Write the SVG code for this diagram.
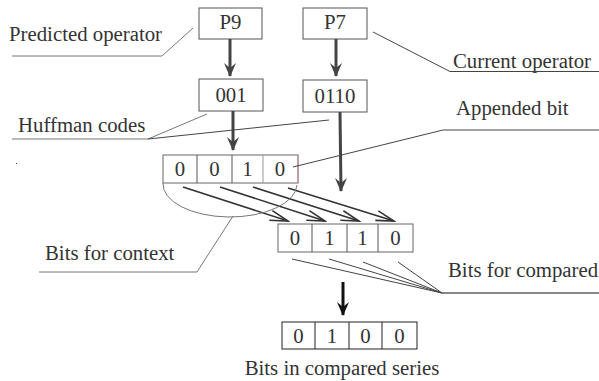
<svg xmlns="http://www.w3.org/2000/svg" width="599" height="381" viewBox="0 0 599 381">
  <style>
    text { font-family: "Liberation Serif", "Times New Roman", serif; font-size: 20.8px; fill: #333; }
    .mid { text-anchor: middle; }
    .box { fill: #fff; stroke: #555; stroke-width: 1; }
    .cell { stroke: #555; stroke-width: 1; }
    .lead { fill: none; stroke: #444; stroke-width: 1; }
    .lead-lt { fill: none; stroke: #777; stroke-width: 1; }
    .thick { stroke: #444; stroke-width: 3; }
    .diag { stroke: #333; stroke-width: 1.6; fill: none; }
  </style>
  <defs>
    <marker id="head" markerUnits="userSpaceOnUse" markerWidth="16" markerHeight="18" refX="8" refY="16" orient="0" viewBox="0 0 16 18">
      <path d="M8,17 L2,3 L8,8 L14,3 Z" fill="#444"/>
    </marker>
    <marker id="head-bk" markerUnits="userSpaceOnUse" markerWidth="16" markerHeight="18" refX="8" refY="16" orient="0" viewBox="0 0 16 18">
      <path d="M8,17 L2,3 L8,8 L14,3 Z" fill="#111"/>
    </marker>
    <marker id="open" markerUnits="userSpaceOnUse" markerWidth="22" markerHeight="12" refX="20" refY="6" orient="auto" viewBox="0 0 22 12">
      <path d="M2,1 L20,6 L2,11" fill="none" stroke="#333" stroke-width="1.6"/>
    </marker>
  </defs>

  <!-- operator boxes -->
  <g id="p9">
    <rect class="box" x="199" y="8" width="63" height="31"/>
    <text class="mid" x="230.5" y="29">P9</text>
  </g>
  <g id="p7">
    <rect class="box" x="303" y="8" width="64" height="31"/>
    <text class="mid" x="335" y="29">P7</text>
  </g>

  <!-- Huffman code boxes -->
  <g id="code-001">
    <rect class="box" x="199" y="79" width="64" height="32"/>
    <text class="mid" x="231" y="102">001</text>
  </g>
  <g id="code-0110">
    <rect class="box" x="303" y="80" width="64" height="32"/>
    <text class="mid" x="335" y="103">0110</text>
  </g>

  <!-- context bits with appended bit -->
  <g id="context-bits">
    <rect x="163" y="155" width="135" height="28" fill="#fff" stroke="#666"/>
    <line class="cell" x1="197" y1="155" x2="197" y2="183"/>
    <line class="cell" x1="232" y1="155" x2="232" y2="183"/>
    <line x1="263" y1="155" x2="263" y2="183" stroke="#999"/>
    <line x1="298" y1="155" x2="298" y2="183" stroke="#d08a8a"/>
    <text class="mid" x="180" y="176">0</text>
    <text class="mid" x="214.5" y="176">0</text>
    <text class="mid" x="247.5" y="176">1</text>
    <text class="mid" x="280" y="176">0</text>
  </g>

  <!-- compared bits -->
  <g id="compared-bits">
    <rect x="278" y="224" width="135" height="28" fill="#fff" stroke="#666"/>
    <line class="cell" x1="312" y1="224" x2="312" y2="252"/>
    <line class="cell" x1="347" y1="224" x2="347" y2="252"/>
    <line class="cell" x1="378" y1="224" x2="378" y2="252"/>
    <text class="mid" x="295" y="245">0</text>
    <text class="mid" x="329.5" y="245">1</text>
    <text class="mid" x="362.5" y="245">1</text>
    <text class="mid" x="395.5" y="245">0</text>
  </g>

  <!-- compared series -->
  <g id="series-bits">
    <rect x="282" y="322" width="135" height="27" fill="#fff" stroke="#222"/>
    <line x1="315" y1="322" x2="315" y2="349" stroke="#222"/>
    <line x1="349" y1="322" x2="349" y2="349" stroke="#222"/>
    <line x1="382" y1="322" x2="382" y2="349" stroke="#222"/>
    <text class="mid" x="298.5" y="343">0</text>
    <text class="mid" x="332" y="343">1</text>
    <text class="mid" x="365.5" y="343">0</text>
    <text class="mid" x="399.5" y="343">0</text>
    <text class="mid" x="342" y="375">Bits in compared series</text>
  </g>

  <!-- labels -->
  <g id="label-predicted">
    <text x="9" y="41">Predicted operator</text>
  </g>
  <g id="label-current">
    <text x="453" y="68">Current operator</text>
  </g>
  <g id="label-huffman">
    <text x="18" y="132">Huffman codes</text>
  </g>
  <g id="label-appended">
    <text x="456" y="115">Appended bit</text>
  </g>
  <g id="label-context">
    <text x="45" y="260">Bits for context</text>
  </g>
  <g id="label-compared">
    <text x="448" y="277">Bits for compared</text>
  </g>

  <g id="connectors">
    <!-- flow arrows -->
    <line class="thick" x1="230" y1="39" x2="230" y2="76" marker-end="url(#head)"/>
    <line class="thick" x1="336" y1="39" x2="336" y2="76" marker-end="url(#head)"/>
    <line class="thick" x1="233" y1="111" x2="233" y2="150" marker-end="url(#head)"/>
    <line class="thick" x1="340" y1="112" x2="341" y2="191" marker-end="url(#head)"/>
    <line x1="343" y1="282" x2="343" y2="315" stroke="#111" stroke-width="3" marker-end="url(#head-bk)"/>

    <!-- bit shifts -->
    <line class="diag" x1="183" y1="187" x2="288" y2="221" marker-end="url(#open)"/>
    <line class="diag" x1="220" y1="187" x2="325" y2="221" marker-end="url(#open)"/>
    <line class="diag" x1="253" y1="187" x2="359" y2="221" marker-end="url(#open)"/>
    <line class="diag" x1="288" y1="188" x2="394" y2="221" marker-end="url(#open)"/>

    <!-- context brace -->
    <path class="lead-lt" d="M163,183 A67,33 0 0 0 297,185"/>

    <!-- label leaders -->
    <polyline class="lead-lt" points="12,56 162,56 193,28"/>
    <polyline class="lead" points="373,32 450,71.5 599,71.5"/>
    <polyline class="lead-lt" points="12,139 148,139 207,114"/>
    <line class="lead" x1="148" y1="139" x2="329" y2="120"/>
    <polyline class="lead" points="293,167 443,130 599,130"/>
    <polyline class="lead-lt" points="233,216 197,272 39,272"/>
    <line x1="442" y1="293" x2="599" y2="293" stroke="#111"/>
    <line class="lead" x1="292" y1="259" x2="442" y2="293"/>
    <line class="lead" x1="329" y1="259" x2="442" y2="293"/>
    <line class="lead" x1="363" y1="262" x2="442" y2="293"/>
    <line class="lead" x1="398" y1="262" x2="442" y2="293"/>
  </g>

  <rect x="16" y="163" width="1" height="1" fill="#444"/>
</svg>
